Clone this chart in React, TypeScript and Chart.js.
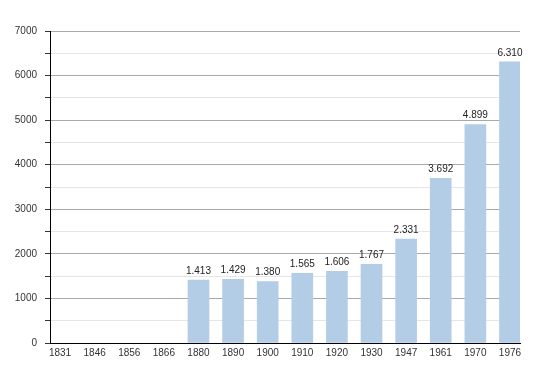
import React, { useEffect, useRef } from "react";
import { Chart, registerables } from "chart.js";

Chart.register(...registerables);

const years = ["1831", "1846", "1856", "1866", "1880", "1890", "1900", "1910", "1920", "1930", "1947", "1961", "1970", "1976"];
const population: (number | null)[] = [null, null, null, null, 1413, 1429, 1380, 1565, 1606, 1767, 2331, 3692, 4899, 6310];
const yTicks = [0, 1000, 2000, 3000, 4000, 5000, 6000, 7000];

const FONT = "'Liberation Sans', Arial, sans-serif";

const fmt = (v: number) => {
  const s = String(v);
  return s.length > 3 ? s.slice(0, s.length - 3) + "." + s.slice(s.length - 3) : s;
};

const labelPlugin = {
  id: "barLabels",
  afterDatasetsDraw(chart: any) {
    const ctx = chart.ctx;
    const meta = chart.getDatasetMeta(0);
    ctx.save();
    ctx.font = `10px ${FONT}`;
    ctx.fillStyle = "#222";
    ctx.textAlign = "center";
    ctx.textBaseline = "bottom";
    meta.data.forEach((el: any, i: number) => {
      const v = population[i];
      if (v == null) return;
      ctx.fillText(fmt(v), el.x, el.y - 4);
    });
    ctx.restore();
  },
};

export default function App() {
  const ref = useRef<HTMLCanvasElement | null>(null);
  useEffect(() => {
    document.body.style.margin = "0";
    const data = population.map((v, i) => ({ x: i, y: v }));
    const chart = new Chart(ref.current as HTMLCanvasElement, {
      type: "bar",
      data: {
        datasets: [
          {
            data: data as any,
            backgroundColor: "#b3cde6",
            borderWidth: 0,
            barThickness: 21,
          },
        ],
      },
      options: {
        animation: false,
        responsive: false,
        maintainAspectRatio: false,
        layout: { padding: { top: 31, right: 30, left: 0, bottom: 0 } },
        plugins: { legend: { display: false }, tooltip: { enabled: false } },
        scales: {
          x: {
            type: "linear",
            offset: false,
            min: -0.29,
            max: 13.29,
            afterBuildTicks: (scale: any) => {
              scale.ticks = years.map((_, i) => ({ value: i }));
            },
            afterFit: (scale: any) => {
              scale.height = 30;
            },
            grid: { display: false, drawTicks: false, offset: false },
            border: { display: true, color: "#000", width: 1 },
            ticks: {
              padding: 4,
              autoSkip: false,
              maxRotation: 0,
              color: "#333",
              font: { family: FONT, size: 10 },
              callback: (v: any) => years[v] ?? "",
            },
          },
          y: {
            min: 0,
            max: 7000,
            afterBuildTicks: (scale: any) => {
              const t: any[] = [];
              yTicks.forEach((v, i) => {
                t.push({ value: v });
                if (i < yTicks.length - 1) t.push({ value: v + 500 });
              });
              scale.ticks = t;
            },
            afterFit: (scale: any) => {
              scale.width = 50;
            },
            grid: {
              color: (c: any) => (c.tick && c.tick.value % 1000 === 0 ? "#a9a9a9" : "#e6e6e6"),
              tickColor: "#333",
              tickLength: 5,
              lineWidth: 1,
            },
            border: { display: true, color: "#000", width: 1 },
            ticks: {
              padding: 8,
              color: "#333",
              font: { family: FONT, size: 10 },
              callback: (v: any) => (Number(v) % 1000 === 0 ? String(v) : ""),
            },
          },
        },
      },
      plugins: [labelPlugin],
    });
    return () => chart.destroy();
  }, []);
  return (
    <div style={{ width: 550, height: 373 }}>
      <canvas ref={ref} width={550} height={373} />
    </div>
  );
}
